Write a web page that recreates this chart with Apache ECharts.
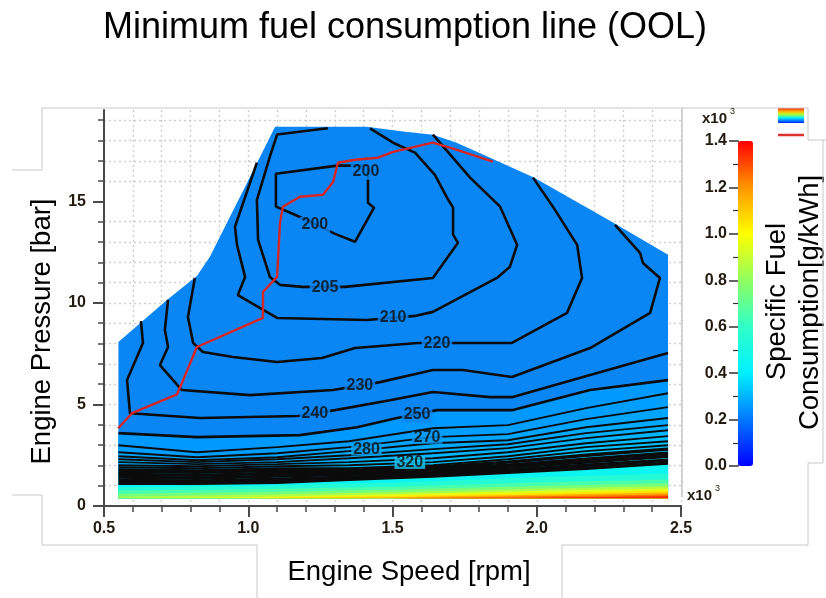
<!DOCTYPE html>
<html>
<head>
<meta charset="utf-8">
<script src="https://cdn.jsdelivr.net/npm/echarts@6/dist/echarts.min.js"></script>
<style>
  html, body { margin: 0; padding: 0; background: #ffffff; }
  #chart { width: 826px; height: 598px; }
</style>
</head>
<body>
<div id="chart"></div>
<script>
// Units: engine speed in rpm x10^3, engine pressure (BMEP) in bar, SFC in g/kWh.

// Full-load operating envelope of the map
const fullLoadEnvelope = [
  [0.55, 0.38], [0.55, 8.07], [0.718, 10.15], [0.822, 11.33], [0.867, 12.27],
  [0.996, 15.92], [1.093, 18.68], [1.41, 18.68], [1.53, 18.45], [1.64, 18.28],
  [1.72, 17.9], [1.80, 17.40], [1.99, 16.17], [2.26, 14.0], [2.455, 12.37], [2.455, 0.38]
];

// Iso-SFC contours in the upper (low consumption) part of the map
const sfc200 = [[1.162, 14.34], [1.096, 14.74], [1.096, 16.36], [1.308, 16.76], [1.415, 16.76],
  [1.415, 14.93], [1.436, 14.69], [1.370, 13.01], [1.301, 13.40], [1.162, 14.34]];
const sfc205 = [[1.276, 18.6], [1.100, 18.29], [1.075, 17.20], [1.030, 15.08], [1.034, 13.11],
  [1.075, 11.28], [1.110, 10.89], [1.186, 10.79], [1.335, 10.79], [1.640, 11.23], [1.727, 12.96],
  [1.710, 13.36], [1.710, 14.69], [1.689, 15.18], [1.647, 16.31], [1.578, 17.40], [1.502, 17.89], [1.422, 18.6]];
const sfc210 = [[1.030, 16.91], [0.954, 13.75], [0.961, 12.86], [0.989, 11.28], [0.964, 10.39],
  [1.100, 9.26], [1.412, 9.16], [1.578, 9.36], [1.640, 9.56], [1.862, 11.23], [1.907, 11.78],
  [1.932, 12.86], [1.873, 14.74], [1.769, 16.17], [1.640, 18.29]];
const sfc220 = [[0.815, 11.23], [0.791, 9.31], [0.809, 8.03], [0.843, 7.58], [0.947, 7.34],
  [1.100, 7.09], [1.256, 7.29], [1.370, 7.78], [1.588, 8.03], [1.724, 8.03], [1.914, 8.03],
  [2.105, 9.51], [2.157, 11.23], [2.140, 12.86], [2.056, 14.74], [1.987, 16.17]];
const sfc230 = [[0.722, 10.15], [0.711, 8.67], [0.722, 7.83], [0.694, 6.94], [0.770, 5.71],
  [1.006, 5.46], [1.294, 5.71], [1.457, 6.10], [1.640, 6.70], [1.744, 6.70], [1.914, 6.35],
  [2.185, 7.78], [2.393, 9.51], [2.427, 11.23], [2.368, 11.97], [2.358, 12.47], [2.271, 13.84]];
const sfc240 = [[0.628, 9.10], [0.635, 8.03], [0.580, 6.20], [0.590, 4.57], [0.833, 4.33],
  [1.172, 4.43], [1.301, 4.72], [1.491, 5.21], [1.640, 5.61], [1.838, 5.36], [1.914, 5.36],
  [2.185, 6.45], [2.455, 7.53]];
const sfc250 = [[0.55, 3.59], [0.822, 3.39], [1.179, 3.49], [1.377, 3.88], [1.516, 4.33],
  [1.654, 4.72], [1.914, 4.72], [2.185, 5.71], [2.455, 6.20]];

// Low-load contours, sampled at common speeds
const denseSpeeds = [0.55, 0.822, 1.10, 1.349, 1.640, 1.900, 2.171, 2.455];
const sfc260 = [2.99, 2.65, 2.90, 3.19, 3.83, 3.98, 4.82, 5.55];
const sfc270 = [2.65, 2.40, 2.60, 2.90, 3.39, 3.54, 4.28, 4.87];
const sfc280 = [2.45, 2.25, 2.40, 2.70, 3.09, 3.24, 3.88, 4.33];
const sfc290 = [2.30, 2.16, 2.30, 2.50, 2.80, 3.04, 3.59, 3.98];
const sfc300 = [2.16, 2.06, 2.16, 2.35, 2.60, 2.85, 3.34, 3.73];
const sfc310 = [2.01, 1.96, 2.06, 2.16, 2.35, 2.65, 3.09, 3.44];
const sfc320 = [1.91, 1.86, 1.96, 2.01, 2.16, 2.45, 2.90, 3.19];
const sfc330 = [1.81, 1.76, 1.86, 1.86, 2.01, 2.30, 2.70, 2.99];
const sfc340 = [1.71, 1.66, 1.76, 1.76, 1.91, 2.16, 2.50, 2.80];
const sfc350 = [1.56, 1.51, 1.61, 1.66, 1.81, 2.01, 2.30, 2.60];
const sfc360 = [1.42, 1.37, 1.47, 1.56, 1.71, 1.91, 2.16, 2.45];
const sfc380 = [1.27, 1.22, 1.32, 1.42, 1.61, 1.76, 2.01, 2.25];
const sfc400 = [1.12, 1.12, 1.17, 1.32, 1.47, 1.66, 1.86, 2.11];

// Idle / very low load region (filled only, no contour lines drawn)
const lowLoadSpeeds = [0.55, 1.0, 1.5, 2.0, 2.455];
const sfc500 = [0.92, 0.98, 1.15, 1.42, 1.60];
const sfc600 = [0.76, 0.82, 0.95, 1.16, 1.30];
const sfc700 = [0.60, 0.68, 0.80, 0.98, 1.12];
const sfc800 = [0.45, 0.55, 0.68, 0.85, 0.98];
const sfc900 = [0.38, 0.44, 0.58, 0.74, 0.86];
const sfc1000 = [0.38, 0.38, 0.50, 0.64, 0.76];
const sfc1100 = [0.38, 0.38, 0.43, 0.56, 0.66];
const sfc1200 = [0.38, 0.38, 0.38, 0.48, 0.57];
const sfc1300 = [0.38, 0.38, 0.38, 0.41, 0.48];
const mapFloor = [0.38, 0.38, 0.38, 0.38, 0.38];

// Minimum fuel consumption line (optimal operating line)
const oolLine = [
  [0.549, 3.83], [0.597, 4.57], [0.753, 5.50], [0.770, 6.05], [0.822, 7.83], [1.051, 9.26],
  [1.051, 10.54], [1.100, 11.28], [1.110, 13.94], [1.120, 14.74], [1.179, 15.23], [1.259, 15.33],
  [1.294, 15.96], [1.311, 16.90], [1.370, 17.05], [1.450, 17.15], [1.502, 17.44], [1.640, 17.89],
  [1.710, 17.60], [1.848, 16.96]
];

// Contour level labels: level text and anchor on its line
const labelLevels = ['200', '200', '205', '210', '220', '230', '240', '250', '270', '280', '320'];
const labelAnchors = [[1.408, 16.46], [1.231, 13.84], [1.266, 10.77], [1.502, 9.27], [1.654, 7.98],
  [1.387, 5.93], [1.231, 4.57], [1.585, 4.50], [1.62, 3.36], [1.41, 2.78], [1.56, 2.12]];

// Axis ticks
const speedTicks = [0.5, 1.0, 1.5, 2.0, 2.5];
const pressureTicks = [0, 5, 10, 15];
const sfcScaleColors = ['#0000ff', '#0078ff', '#00f0ff', '#30ffc8', '#90ff60', '#ffff00', '#ff9600', '#ff0000'];

// ---------------------------------------------------------------------------
const FONT = "'Liberation Sans', Arial, sans-serif";
const zip = (xs, ys) => xs.map((x, i) => [x, ys[i]]);

const denseLevels = [
  [260, sfc260], [270, sfc270], [280, sfc280], [290, sfc290], [300, sfc300], [310, sfc310],
  [320, sfc320], [330, sfc330], [340, sfc340], [350, sfc350], [360, sfc360], [380, sfc380], [400, sfc400]
].map(([lvl, ys]) => [lvl, zip(denseSpeeds, ys)]);
const lowLoadLevels = [
  [500, sfc500], [600, sfc600], [700, sfc700], [800, sfc800], [900, sfc900], [1000, sfc1000],
  [1100, sfc1100], [1200, sfc1200], [1300, sfc1300], [1400, mapFloor]
].map(([lvl, ys]) => [lvl, zip(lowLoadSpeeds, ys)]);
const floorLine = zip(lowLoadSpeeds, mapFloor);

// Each band runs from its upper level line down to the floor; drawn top to bottom,
// the next band covers everything below its own upper line.
const bandEdges = [[250, sfc250]].concat(denseLevels, lowLoadLevels);
const bandData = [];
for (let i = 0; i < bandEdges.length - 1; i++) {
  bandData.push([i, (bandEdges[i][0] + bandEdges[i + 1][0]) / 2]);
}

const upperContours = [sfc200, sfc205, sfc210, sfc220, sfc230, sfc240, sfc250];
const lineSeries = [];
upperContours.forEach(pts => lineSeries.push({
  type: 'line', data: pts, showSymbol: false, silent: true, animation: false,
  lineStyle: { color: '#0b0b0b', width: 2.6 }
}));
// the tightly packed lines near idle merge into a dark band
denseLevels.forEach(([lvl, pts]) => lineSeries.push({
  type: 'line', data: pts, showSymbol: false, silent: true, animation: false,
  lineStyle: { color: '#0b0b0b', width: lvl >= 340 ? 3.4 : 1.9 }
}));

const labelBg = { '270': '#0c9cf6', '280': '#0aa6f6', '320': '#18c8f2' };
const labelData = labelLevels.map((t, i) => ({
  name: t, value: labelAnchors[i],
  label: { backgroundColor: labelBg[t] || '#0a86f4', lineHeight: labelBg[t] ? 12 : 16 }
}));

const chart = echarts.init(document.getElementById('chart'), null, { renderer: 'canvas' });

const dotted = () => ({ show: true, lineStyle: { color: '#cfcfcf', width: 1.4, type: [2, 3] } });
const tickFont = { color: '#231a10', fontWeight: 'bold', fontSize: 16, fontFamily: FONT };

chart.setOption({
  animation: false,
  backgroundColor: '#ffffff',
  grid: [
    { left: 104, right: 145, top: 110, bottom: 92 },
    { left: 738, width: 15, top: 141, height: 325 }
  ],
  xAxis: [
    {
      type: 'value', gridIndex: 0, min: speedTicks[0], max: speedTicks[speedTicks.length - 1], interval: 0.5,
      axisLine: { lineStyle: { color: '#4a4a4a', width: 2 } },
      axisTick: { length: 11, lineStyle: { color: '#4a4a4a', width: 2 } },
      minorTick: { show: true, splitNumber: 5, length: 6, lineStyle: { color: '#4a4a4a', width: 1.5 } },
      splitLine: dotted(),
      minorSplitLine: dotted(),
      axisLabel: Object.assign({ margin: 15, formatter: v => v.toFixed(1) }, tickFont)
    },
    { type: 'value', gridIndex: 1, show: false, min: 0, max: 1 }
  ],
  yAxis: [
    {
      type: 'value', gridIndex: 0, position: 'left', min: 0, max: 19.5, interval: 5,
      axisLine: { show: true, lineStyle: { color: '#4a4a4a', width: 2 } },
      axisTick: { show: true, length: 11, customValues: pressureTicks, lineStyle: { color: '#4a4a4a', width: 2 } },
      minorTick: { show: true, splitNumber: 5, length: 6, lineStyle: { color: '#4a4a4a', width: 1.5 } },
      axisLabel: Object.assign({ margin: 18, customValues: pressureTicks }, tickFont),
      splitLine: Object.assign(dotted(), { showMaxLine: false }),
      minorSplitLine: dotted()
    },
    {
      type: 'value', gridIndex: 1, min: 0, max: 1.4, interval: 0.2, position: 'left',
      axisLine: { show: true, lineStyle: { color: '#333', width: 1 } },
      axisTick: { length: 9, lineStyle: { color: '#333', width: 1.5 } },
      minorTick: { show: true, splitNumber: 2, length: 5, lineStyle: { color: '#333', width: 1.2 } },
      splitLine: { show: false },
      axisLabel: Object.assign({ margin: 11, formatter: v => v.toFixed(1) }, tickFont)
    }
  ],
  visualMap: {
    type: 'continuous', min: 0, max: 1400, seriesIndex: 1, dimension: 1,
    left: 738, top: 141, itemWidth: 15, itemHeight: 325, padding: 0,
    calculable: false, hoverLink: false, inRange: { color: sfcScaleColors }
  },
  series: [
    {
      type: 'custom', silent: true, data: [[0, 0]],
      renderItem: (params, api) => ({
        type: 'polygon',
        shape: { points: fullLoadEnvelope.map(p => api.coord(p)) },
        style: { fill: '#0a86f4' }
      })
    },
    {
      type: 'custom', silent: true, data: bandData,
      renderItem: (params, api) => {
        const i = api.value(0);
        const upper = bandEdges[i][1];
        const pts = upper.concat(floorLine.slice().reverse()).map(p => api.coord(p));
        return { type: 'polygon', shape: { points: pts }, style: { fill: api.visual('color') } };
      }
    }
  ].concat(lineSeries, [
    {
      type: 'line', data: oolLine, showSymbol: false, silent: true,
      lineStyle: { color: '#d42626', width: 2.4 }, z: 4
    },
    {
      type: 'scatter', data: labelData, symbolSize: 0, silent: true, z: 5,
      label: {
        show: true, position: 'inside', formatter: '{b}', color: '#0b0b0b',
        fontFamily: FONT, fontWeight: 'bold', fontSize: 16, padding: [0, 2]
      }
    }
  ]),
  graphic: [
    // page frame around the plot
    { type: 'polyline', silent: true, z: 101, shape: { points: [[12, 170], [42, 170], [42, 108], [808, 108], [808, 140], [826, 140]] },
      style: { stroke: '#c8c8c8', lineWidth: 1, fill: null } },
    { type: 'polyline', silent: true, z: 101, shape: { points: [[823, 140], [823, 463], [808, 463], [808, 545], [562, 545], [562, 598]] },
      style: { stroke: '#c8c8c8', lineWidth: 1, fill: null } },
    { type: 'polyline', silent: true, z: 101, shape: { points: [[12, 495], [42, 495], [42, 545], [257, 545], [257, 598]] },
      style: { stroke: '#c8c8c8', lineWidth: 1, fill: null } },
    { type: 'line', silent: true, z: 101, shape: { x1: 682, y1: 108, x2: 682, y2: 497 },
      style: { stroke: '#d2d2d2', lineWidth: 2 } },
    // titles
    { type: 'text', silent: true, x: 405, y: 28,
      style: { text: 'Minimum fuel consumption line (OOL)', fontFamily: FONT, fontSize: 36, fill: '#000',
        align: 'center', verticalAlign: 'middle' } },
    { type: 'text', silent: true, x: 409, y: 572.5,
      style: { text: 'Engine Speed [rpm]', fontFamily: FONT, fontSize: 27.5, fill: '#000',
        align: 'center', verticalAlign: 'middle' } },
    { type: 'text', silent: true, x: 42, y: 331.5, rotation: Math.PI / 2,
      style: { text: 'Engine Pressure [bar]', fontFamily: FONT, fontSize: 27.5, fill: '#000',
        align: 'center', verticalAlign: 'middle' } },
    { type: 'text', silent: true, x: 777.5, y: 301.5, rotation: Math.PI / 2,
      style: { text: 'Specific Fuel', fontFamily: FONT, fontSize: 27.5, fill: '#000',
        align: 'center', verticalAlign: 'middle' } },
    { type: 'text', silent: true, x: 810, y: 302.5, rotation: Math.PI / 2,
      style: { text: 'Consumption[g/kWh]', fontFamily: FONT, fontSize: 27.5, fill: '#000',
        align: 'center', verticalAlign: 'middle' } },
    // axis multipliers
    { type: 'text', silent: true, z: 102, x: 702, y: 119,
      style: { text: 'x10', fontFamily: FONT, fontWeight: 'bold', fontSize: 15, fill: '#231a10', verticalAlign: 'middle' } },
    { type: 'text', silent: true, z: 102, x: 730, y: 112,
      style: { text: '3', fontFamily: FONT, fontSize: 9, fill: '#231a10', verticalAlign: 'middle' } },
    { type: 'text', silent: true, z: 102, x: 687, y: 496,
      style: { text: 'x10', fontFamily: FONT, fontWeight: 'bold', fontSize: 15, fill: '#231a10', verticalAlign: 'middle' } },
    { type: 'text', silent: true, z: 102, x: 715, y: 489,
      style: { text: '3', fontFamily: FONT, fontSize: 9, fill: '#231a10', verticalAlign: 'middle' } },
    // legend keys
    { type: 'rect', silent: true, shape: { x: 778, y: 108, width: 26, height: 15 },
      style: { fill: new echarts.graphic.LinearGradient(0, 0, 0, 1, [
        { offset: 0, color: '#ff2000' }, { offset: 0.25, color: '#ffc000' }, { offset: 0.45, color: '#a0ff40' },
        { offset: 0.65, color: '#00f0ff' }, { offset: 1, color: '#0020ff' }]) } },
    { type: 'line', silent: true, shape: { x1: 778, y1: 135, x2: 804, y2: 135 },
      style: { stroke: '#e03030', lineWidth: 2.5 } }
  ]
});
</script>
</body>
</html>
